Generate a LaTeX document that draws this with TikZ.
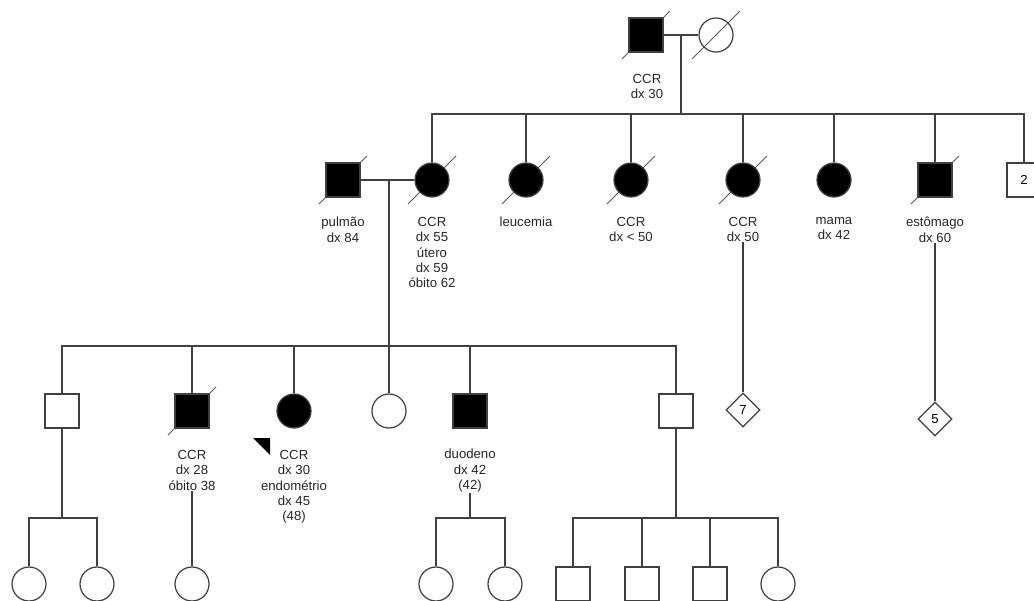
\documentclass[tikz,border=0pt]{standalone}
\usepackage{fontspec}
\setmainfont{Liberation Sans}
\usetikzlibrary{shapes.geometric,calc,backgrounds}

\newcommand{\lbl}{\fontsize{7.5}{8.7}\selectfont}
% traco de obito sobre o simbolo
\newcommand{\obito}[1]{\draw[obitoline] ($(#1)+(-24,24)$) -- ($(#1)+(24,-24)$);}

\begin{document}
\begin{tikzpicture}[x=0.02cm,y=-0.02cm,
    male/.style={rectangle,draw=black!75,line width=0.7pt,minimum size=0.68cm,inner sep=0pt,font=\lbl},
    female/.style={circle,draw=black!75,line width=0.7pt,minimum size=0.68cm,inner sep=0pt},
    sexo/.style={diamond,draw=black!75,line width=0.7pt,minimum size=0.68cm,inner sep=0pt,font=\lbl},
    aff/.style={fill=black},
    txt/.style={anchor=north,align=center,inner sep=0pt,font=\lbl,text=black!85},
    rel/.style={draw=black!75,line width=0.7pt},
    obitoline/.style={draw=black!65,line width=0.55pt}]

    \useasboundingbox (0,0) rectangle (1034,601);
    \clip (0,0) rectangle (1034,601);

    % geracao I
    \node[male,aff] (I1) at (646,35) {};
    \node[female] (I2) at (716,35) {};
    \node[txt] (I1t) at (647,74) {CCR\\dx 30};
    \coordinate (m1) at (681,35);
    \coordinate (s1) at (681,114);

    % geracao II
    \node[male,aff] (II1) at (343,180) {};
    \node[female,aff] (II2) at (432,180) {};
    \node[female,aff] (II3) at (526,180) {};
    \node[female,aff] (II4) at (631,180) {};
    \node[female,aff] (II5) at (743,180) {};
    \node[female,aff] (II6) at (834,180) {};
    \node[male,aff] (II7) at (935,180) {};
    \node[male] (II8) at (1024,180) {2};

    \node[txt] (II1t) at (343,217) {pulmão\\dx 84};
    \node[txt] (II2t) at (432,217) {CCR\\dx 55\\útero\\dx 59\\óbito 62};
    \node[txt] (II3t) at (526,217) {leucemia};
    \node[txt] (II4t) at (631,217) {CCR\\dx < 50};
    \node[txt] (II5t) at (743,217) {CCR\\dx 50};
    \node[txt] (II6t) at (834,217) {mama\\dx 42};
    \node[txt] (II7t) at (935,217) {estômago\\dx 60};

    \node[sexo] (d7) at (743,410) {7};
    \node[sexo] (d5) at (935,419) {5};
    \coordinate (m2) at (389,180);
    \coordinate (s2) at (389,346);

    % geracao III
    \node[male] (III1) at (62,411) {};
    \node[male,aff] (III2) at (192,411) {};
    \node[female,aff] (III3) at (294,411) {};
    \node[female] (III4) at (389,411) {};
    \node[male,aff] (III5) at (470,411) {};
    \node[male] (III6) at (676,411) {};

    \node[txt] (III2t) at (192,450) {CCR\\dx 28\\óbito 38};
    \node[txt] (III3t) at (294,450) {CCR\\dx 30\\endométrio\\dx 45\\(48)};
    \node[txt] (III5t) at (470,449) {duodeno\\dx 42\\(42)};
    \fill (253,438) -- (270,438) -- (270,455) -- cycle; % probando

    \coordinate (s3) at (62,518);
    \coordinate (s4) at (470,518);
    \coordinate (s5) at (676,518);

    % geracao IV
    \node[female] (IV1) at (29,584) {};
    \node[female] (IV2) at (97,584) {};
    \node[female] (IV3) at (192,584) {};
    \node[female] (IV4) at (436,584) {};
    \node[female] (IV5) at (505,584) {};
    \node[male] (IV6) at (573,584) {};
    \node[male] (IV7) at (642,584) {};
    \node[male] (IV8) at (710,584) {};
    \node[female] (IV9) at (778,584) {};

    % ligacoes
    \draw[rel] (I1) -- (I2);
    \draw[rel] (m1) -- (s1);
    \draw[rel] (II2.north) |- (s1) -| (II8.north);
    \foreach \k in {3,...,7}
        \draw[rel] (II\k.north) -- (II\k.north |- s1);

    \draw[rel] (II1) -- (II2);
    \draw[rel] (m2) -- (III4);
    \draw[rel] (III1.north) |- (s2) -| (III6.north);
    \foreach \k in {2,3,5}
        \draw[rel] (III\k.north) -- (III\k.north |- s2);
    \draw[rel] (II5t.south) -- (d7.north);
    \draw[rel] (II7t.south) -- (d5.north);

    \draw[rel] (III1) -- (s3);
    \draw[rel] (IV1.north) |- (s3) -| (IV2.north);
    \draw[rel] (III2t.south) -- (IV3.north);
    \draw[rel] (III5t.south) -- (s4);
    \draw[rel] (IV4.north) |- (s4) -| (IV5.north);
    \draw[rel] (III6) -- (s5);
    \draw[rel] (IV6.north) |- (s5) -| (IV9.north);
    \foreach \k in {7,8}
        \draw[rel] (IV\k.north) -- (IV\k.north |- s5);

    % obitos
    \begin{scope}[on background layer]
        \obito{I1} \obito{I2}
        \obito{II1} \obito{II2} \obito{II3} \obito{II4} \obito{II5} \obito{II7}
        \obito{III2}
    \end{scope}
\end{tikzpicture}
\end{document}
